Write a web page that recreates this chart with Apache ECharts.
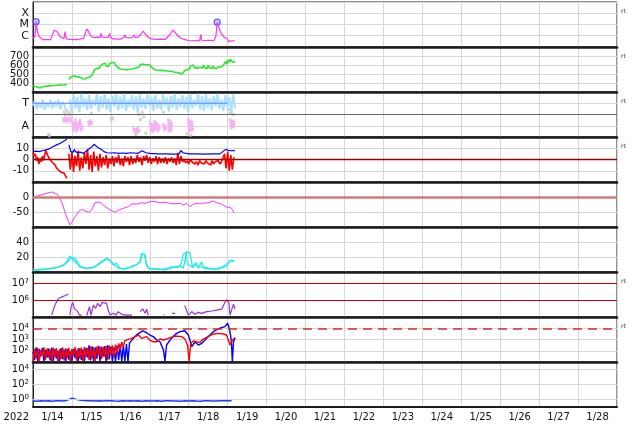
<!DOCTYPE html>
<html><head><meta charset="utf-8">
<script src="https://cdn.jsdelivr.net/npm/echarts@6/dist/echarts.min.js"></script>
<style>html,body{margin:0;padding:0;background:#fff}#c{width:634px;height:424px}</style>
</head><body><div id="c"></div>
<script>
// ---------------- tick / axis labels ----------------
const dayLabels = ['1/14','1/15','1/16','1/17','1/18','1/19','1/20','1/21','1/22','1/23','1/24','1/25','1/26','1/27','1/28'];
const yearLabel = '2022';
const flareClassLabels = {'-4':'X','-5':'M','-6':'C'};
const sectorLabels = {'270':'T','90':'A'};
const rtLabel = 'rt';

// ---------------- data (x = days since 1/14 00:00) ----------------
// Panel 1: X-ray flux (W/m2)
const xrayFlux = [[0,5.5e-7],[0.03,6e-7],[0.05,9e-7],[0.065,3e-6],[0.08,1.8e-5],[0.1,5e-6],[0.13,1.5e-6],[0.16,8e-7],[0.2,5.5e-7],[0.25,4.5e-7],[0.3,4.2e-7],[0.35,4.6e-7],[0.4,4.2e-7],[0.45,4.5e-7],[0.5,1.2e-6],[0.54,3e-6],[0.57,4e-6],[0.61,2.5e-6],[0.65,1.5e-6],[0.7,8e-7],[0.75,6e-7],[0.79,5.5e-7],[0.81,1.2e-6],[0.82,2.3e-6],[0.84,8e-7],[0.88,5e-7],[0.95,4.8e-7],[1.0,5e-7],[1.1,4.6e-7],[1.2,5e-7],[1.3,6e-7],[1.34,1.6e-6],[1.38,4e-6],[1.42,2.6e-6],[1.47,1.2e-6],[1.52,7.5e-7],[1.58,7e-7],[1.65,7.5e-7],[1.72,7e-7],[1.75,1.6e-6],[1.77,8e-7],[1.85,7e-7],[1.93,7e-7],[1.97,1.6e-6],[1.99,7e-7],[2.05,5.5e-7],[2.15,5e-7],[2.25,5e-7],[2.33,7e-7],[2.36,1.2e-6],[2.38,7e-7],[2.45,6.5e-7],[2.55,7e-7],[2.6,1.2e-6],[2.62,7e-7],[2.7,7.5e-7],[2.78,1.5e-6],[2.83,2.6e-6],[2.88,1.5e-6],[2.95,8e-7],[3.02,5.5e-7],[3.1,5e-7],[3.2,4.8e-7],[3.3,5e-7],[3.4,4.8e-7],[3.5,1.1e-6],[3.6,3.2e-6],[3.66,1.8e-6],[3.72,1e-6],[3.8,6e-7],[3.9,4.5e-7],[4.0,3.8e-7],[4.1,3.6e-7],[4.2,3.8e-7],[4.28,3.6e-7],[4.31,1.35e-6],[4.33,4e-7],[4.42,3.8e-7],[4.5,4e-7],[4.53,6e-7],[4.55,3.8e-7],[4.65,3.6e-7],[4.7,1e-6],[4.73,1.6e-5],[4.77,6e-6],[4.82,2e-6],[4.9,8e-7],[4.98,5.5e-7],[5.03,3e-7],[5.04,2.1e-7],[5.06,4e-7],[5.1,3.6e-7],[5.19,3.6e-7]];
const flareMarks = [[0.08,1.8e-5],[4.73,1.6e-5]];

// Panel 2: solar wind speed (km/s)
const windSpeed = [[0,372],[0.03,365],[0.06,360],[0.09,368],[0.12,352],[0.15,358],[0.18,345],[0.21,350],[0.24,360],[0.27,355],[0.3,362],[0.33,358],[0.36,365],[0.39,360],[0.42,368],[0.45,362],[0.48,370],[0.51,366],[0.54,372],[0.57,368],[0.6,375],[0.63,370],[0.66,376],[0.69,372],[0.72,378],[0.75,374],[0.78,380],[0.81,376],[0.84,384],[0.87,380],[0.9,'-'],
[0.92,440],[0.95,452],[0.98,468],[1.01,458],[1.04,480],[1.07,470],[1.1,475],[1.13,462],[1.16,468],[1.19,458],[1.22,462],[1.25,450],[1.28,445],[1.31,452],[1.34,448],[1.37,458],[1.4,462],[1.43,455],[1.46,465],[1.49,458],[1.52,490],[1.55,520],[1.58,548],[1.61,565],[1.64,560],[1.67,575],[1.7,565],[1.73,590],[1.76,570],[1.79,610],[1.82,595],[1.85,620],[1.88,590],[1.91,600],[1.94,585],[1.97,615],[2.0,605],[2.03,628],[2.06,610],[2.09,625],[2.12,598],[2.15,590],[2.18,575],[2.21,565],[2.24,555],[2.27,548],[2.3,552],[2.33,545],[2.36,550],[2.39,542],[2.42,548],[2.45,545],[2.48,552],[2.51,546],[2.54,555],[2.57,548],[2.6,560],[2.63,555],[2.66,570],[2.69,585],[2.72,575],[2.75,600],[2.78,590],[2.81,612],[2.84,595],[2.87,605],[2.9,588],[2.93,600],[2.96,592],[2.99,605],[3.02,585],[3.05,570],[3.08,562],[3.11,550],[3.14,548],[3.17,545],[3.2,548],[3.23,542],[3.26,546],[3.29,540],[3.32,544],[3.35,538],[3.38,542],[3.41,536],[3.44,540],[3.47,534],[3.5,536],[3.53,530],[3.56,534],[3.59,526],[3.62,530],[3.65,520],[3.68,524],[3.71,515],[3.74,520],[3.77,510],[3.8,505],[3.83,500],[3.86,510],[3.9,540],[3.93,560],[3.96,548],[3.99,565],[4.02,555],[4.05,590],[4.08,580],[4.11,600],[4.14,585],[4.17,565],[4.2,560],[4.23,568],[4.26,560],[4.29,575],[4.32,590],[4.35,565],[4.38,600],[4.41,570],[4.44,585],[4.47,560],[4.5,595],[4.53,568],[4.56,580],[4.59,560],[4.62,590],[4.65,565],[4.68,575],[4.71,560],[4.74,570],[4.77,580],[4.8,565],[4.83,575],[4.86,570],[4.89,600],[4.92,585],[4.95,640],[4.98,610],[5.01,655],[5.04,630],[5.07,665],[5.1,640],[5.13,650],[5.16,630],[5.19,645]];

// Panel 3: IMF sector angle (deg), sampled every 0.05 day
const SECTOR_STEP = 0.05;
const towardStart1 = 0, towardStart2 = 0.94;
const towardSeg1 = [250,290,225,280,235,300,220,275,240,295,230,285,245,300,225,280,260,215];
const towardSeg2 = [300,210,340,230,320,200,345,240,310,215,335,225,300,250,340,205,325,235,345,220,310,200,330,245,340,215,320,230,345,210,300,240,335,220,325,195,340,235,310,225,345,250,320,210,335,230,300,220,340,245,315,205,330,235,345,215,310,240,335,225,320,200,340,230,300,250,345,220,325,210,340,235,310,215,330,245,345,225,300,210,335,240,320,200,340,230];
const awayPoints = [[0.77,150],[0.79,115],[0.81,165],[0.83,120],[0.85,155],[0.87,112],[0.89,160],[0.91,125],[0.93,150],[0.95,115],[0.97,160],[0.99,120],[1.01,140],[1.03,40],[1.05,120],[1.07,60],[1.09,150],[1.11,35],[1.13,110],[1.15,50],[1.17,130],[1.19,70],[1.21,145],[1.23,45],[1.25,100],[1.27,60],[1.33,'-'],
[1.41,130],[1.44,90],[1.47,140],[1.5,95],[1.53,125],[1.7,'-'],[1.98,160],[2.01,130],[2.04,165],[2.06,135],[2.3,'-'],
[2.57,80],[2.6,35],[2.63,70],[2.66,40],[2.69,85],[2.72,35],[2.75,60],[2.9,'-'],
[3.0,130],[3.03,40],[3.06,110],[3.09,35],[3.12,135],[3.15,50],[3.18,120],[3.21,40],[3.24,100],[3.26,60],[3.3,'-'],
[3.34,110],[3.37,50],[3.4,100],[3.43,55],[3.45,'-'],[3.47,150],[3.5,35],[3.53,140],[3.55,40],[3.57,120],[3.7,'-'],
[3.98,150],[4.01,35],[4.04,140],[4.07,45],[4.09,130],[4.11,50],[4.5,'-'],[5.06,150],[5.09,60],[5.12,140],[5.15,70],[5.18,130]];
const unknownPoints = [[0.8,200],[0.84,180],[0.88,210],[0.92,190],[0.96,175],[1.0,205],[0.4,20],[0.42,10],[2.72,180],[2.76,140],[2.8,200],[2.84,160],[2.64,20],[2.68,40],[2.9,30],[3.95,25],[4.05,15],[5.02,220],[5.06,190],[5.1,200],[5.14,180],[1.5,190],[3.35,200]];
const sectorRefSpan = [[0,270],[5.0,270]];

// Panel 4: IMF Bt and Bz (nT)
const imfBt = [[0,7],[0.08,7.5],[0.16,7],[0.24,7.8],[0.31,8.4],[0.38,9],[0.44,10],[0.52,11.5],[0.61,13],[0.7,14.5],[0.78,16],[0.87,18],[0.9,'-'],
[0.92,13],[0.95,10],[0.97,7],[1.0,8.5],[1.03,6.5],[1.06,9],[1.09,7],[1.12,8],[1.15,6],[1.18,7.5],[1.21,6.5],[1.26,5.5],[1.3,5.5],[1.35,6.5],[1.4,8.4],[1.46,10],[1.52,11.4],[1.57,13.5],[1.6,12],[1.64,11.4],[1.7,10],[1.76,9],[1.82,7],[1.9,6],[2.0,5.8],[2.1,6],[2.2,5.5],[2.3,5.8],[2.4,5.5],[2.5,6],[2.6,5.8],[2.7,5.5],[2.8,7.8],[2.85,6.5],[2.9,6],[3.0,5.5],[3.2,5],[3.4,5],[3.6,4.8],[3.75,5],[3.8,8],[3.85,6],[3.9,5.2],[4.0,5],[4.2,5],[4.4,4.8],[4.6,5],[4.8,5],[4.95,9],[5.0,8],[5.05,7.8],[5.12,8],[5.19,7.8]];
const imfBzSeg1 = [[0,6],[0.03,3],[0.06,5],[0.09,-1],[0.12,2],[0.15,-4],[0.18,1],[0.21,-2],[0.24,3],[0.27,-1],[0.3,4],[0.33,8],[0.36,5],[0.4,2],[0.44,0],[0.48,-2],[0.52,-3.4],[0.57,-5],[0.61,-7.8],[0.66,-9],[0.7,-10.8],[0.75,-11.5],[0.8,-12.3],[0.84,-14],[0.87,-16.7]];
const BZ_STEP = 0.04, bzStart2 = 0.92;
const imfBzSeg2 = [5,-9,7,-11,3,-6,8,-10,2,-8,6,-4,9,-9,4,-11,7,-6,3,-10,5,-7,2,-5,4,-8,1,-4,3,-6,2,-3,4,-5,1,-6,3,-2,2,-5,3,-4,1,-3,4,-2,2,-5,3,-1,4,-3,2,-4,1,-2,3,-4,2,-3,1,-3,2,-4,1,-2,2,-3,1,-5,6,-4,3,-2,0,-3,-1,-4,0,-2,-1,-4,-2,-5,-1,-3,-2,-4,-1,-3,-2,-5,-1,-4,-2,-3,-1,-4,-2,-3,5,-8,7,-10,4,-9,2];

// Panel 5: Dst (nT)
const dstIndex = [[0.01,1],[0.14,4],[0.26,9],[0.39,14],[0.48,16.7],[0.57,12],[0.65,5],[0.74,-17],[0.82,-50],[0.91,-82],[0.95,-93],[0.99,-86],[1.08,-66],[1.16,-51],[1.25,-41],[1.34,-46],[1.42,-51],[1.51,-43],[1.59,-19],[1.68,-17],[1.76,-21],[1.85,-32],[1.98,-43],[2.11,-51],[2.19,-44],[2.32,-38],[2.45,-32],[2.54,-23],[2.66,-24],[2.79,-19],[2.88,-21],[3.01,-16],[3.13,-15],[3.26,-19],[3.39,-18],[3.52,-21],[3.65,-23],[3.78,-21],[3.86,-27],[3.95,-21],[4.03,-32],[4.12,-24],[4.25,-21],[4.37,-21],[4.5,-19],[4.63,-13],[4.72,-19],[4.85,-24],[4.98,-34],[5.06,-34],[5.13,-43],[5.16,-54]];

// Panel 6: density (/cc), two sources
const densityA = [[0.01,2.7],[0.18,3.6],[0.35,4.4],[0.44,4.9],[0.61,6.2],[0.78,9.3],[0.87,13.8],[0.95,21.3],[0.99,19.6],[1.04,16],[1.12,11.6],[1.21,6.2],[1.38,4.9],[1.55,6.2],[1.64,9.3],[1.76,13.8],[1.89,18.2],[1.98,16],[2.06,9.3],[2.15,11.6],[2.23,4.9],[2.36,3.6],[2.49,6.2],[2.66,9.3],[2.75,13.8],[2.79,24.9],[2.88,22.7],[2.92,8],[3.01,3.6],[3.18,4.4],[3.35,2.7],[3.52,4.4],[3.6,6.2],[3.78,8],[3.86,4.9],[3.95,27],[4.03,25.8],[4.1,6.2],[4.16,11.6],[4.25,4.9],[4.33,13.8],[4.37,7.1],[4.55,4.4],[4.72,3.6],[4.89,6.2],[4.98,8],[5.06,16],[5.15,13.8]];
const densityB = [[0.0,2.0],[0.2,3.0],[0.4,3.8],[0.6,5.5],[0.75,8],[0.85,11],[0.93,16],[0.98,19],[1.03,21],[1.08,18],[1.14,14],[1.2,9],[1.3,5.5],[1.45,5],[1.6,7],[1.72,11],[1.82,15],[1.9,17.5],[1.98,14],[2.05,12],[2.12,8],[2.2,5],[2.35,4.5],[2.5,7],[2.65,10],[2.75,13],[2.8,22],[2.86,24],[2.9,12],[2.98,5],[3.1,4],[3.3,3.5],[3.45,5],[3.6,7],[3.72,6],[3.8,10],[3.86,24],[3.92,26],[3.97,10],[4.03,9],[4.1,6],[4.2,12],[4.25,8],[4.4,5],[4.55,4],[4.7,4.5],[4.85,6.5],[4.95,10],[5.05,14],[5.12,16],[5.18,14]];

// Panel 7: electron fluence-like quantity (log)
const purpleFlux = [[0.48,1.3e5],[0.565,5.2e5],[0.65,1.3e6],[0.74,1.6e6],[0.82,1.9e6],[0.91,2.4e6],[0.93,'-'],
[0.95,1.3e5],[0.98,4.2e5],[1.02,7.6e5],[1.06,3.3e5],[1.1,4.2e5],[1.15,2.1e5],[1.19,1.3e5],[1.25,1.3e5],[1.32,'-'],[1.38,1.2e5],[1.45,4.2e5],[1.49,1.3e5],[1.55,5.2e5],[1.61,3.3e5],[1.66,6.6e5],[1.72,4.2e5],[1.78,7.6e5],[1.83,5.8e5],[1.89,6.6e5],[1.93,2.6e5],[1.98,1.3e5],[2.06,1.66e5],[2.13,1.3e5],[2.19,2.1e5],[2.28,1.45e5],[2.41,1.3e5],[2.54,1.3e5],[2.65,'-'],[2.75,2.1e5],[2.82,3e5],[2.88,1.66e5],[2.92,3e5],[2.96,1.3e5],[3.1,'-'],
[3.35,1.45e5],[3.37,1.3e5],[3.45,'-'],[3.57,1.66e5],[3.65,1.66e5],[3.75,'-'],[3.9,4.8e5],[3.95,4.2e5],[3.99,1.3e5],[4.08,2.1e5],[4.16,1.45e5],[4.25,1.9e5],[4.33,1.66e5],[4.46,2.1e5],[4.59,2.3e5],[4.72,2.6e5],[4.85,3e5],[4.93,7.6e5],[4.97,1.05e6],[5.03,7.6e5],[5.06,1.3e5],[5.1,1.3e5],[5.15,5.8e5],[5.19,3e5]];

// Panel 8: particle flux (log), noisy start sampled every 0.04 day
const P8_STEP = 0.04;
const blueFluxNoise = [80,15,200,12,150,30,180,11,120,25,160,14,190,11,140,20,100,12,170,18,130,11,150,16,90,12,140,22,110,11,160,15,130,12,180,25,300,14,250,11,200,20,280,12,220,30,260,11,320,18,240,12,200,11,280,15,350,11,300,12,400,11,500,600];
const blueFluxSmooth = [[2.53,630],[2.62,1800],[2.71,3500],[2.82,5800],[2.92,4000],[3.0,2500],[3.09,1800],[3.18,900],[3.26,630],[3.35,120],[3.39,12],[3.43,320],[3.52,900],[3.6,1800],[3.69,3500],[3.78,5000],[3.9,6000],[3.99,2500],[4.03,900],[4.08,230],[4.16,600],[4.25,320],[4.33,450],[4.42,900],[4.5,1800],[4.63,5000],[4.8,10000],[4.93,14000],[5.0,28000],[5.04,10000],[5.08,1800],[5.1,320],[5.12,11],[5.15,630],[5.19,1450]];
const redFluxNoise = [12,150,20,180,11,120,40,200,15,160,25,140,11,190,30,170,12,130,18,200,14,160,22,180,11,150,35,210,13,170,20,190,12,220,28,180,15,240,20,200,12,230,40,250,18,220,30,260,15,280,45,300,25,350,60,450,120,600,250,800,700];
const redFluxSmooth = [[2.41,900],[2.53,1260],[2.62,1800],[2.71,2500],[2.79,1260],[2.92,1800],[3.0,900],[3.09,630],[3.18,630],[3.26,1100],[3.35,900],[3.43,1100],[3.52,1450],[3.6,1800],[3.69,2000],[3.82,1800],[3.9,1100],[3.97,320],[4.01,11],[4.05,450],[4.12,750],[4.2,630],[4.29,560],[4.37,1100],[4.5,1800],[4.63,3100],[4.76,3500],[4.89,3100],[4.97,2500],[5.02,900],[5.06,320],[5.1,630],[5.15,1100],[5.19,1450]];

// Panel 9: flux near 1 (log), every 0.1 day
const P9_STEP = 0.1;
const lowFlux = [0.65,0.6,0.7,0.62,0.68,0.6,0.66,0.7,0.62,0.9,1.45,1.1,0.85,0.75,0.7,0.75,0.65,0.7,0.62,0.68,0.7,0.64,0.6,0.68,0.65,0.7,0.62,0.66,0.6,0.7,0.65,0.62,0.68,0.6,0.66,0.7,0.62,0.65,0.6,0.68,0.64,0.7,0.62,0.6,0.66,0.7,0.65,0.62,0.68,0.7,0.72,0.7];

// ---------------- helpers ----------------
function sampled(start, step, vals){ return vals.map((v,i)=>[Math.round((start+i*step)*1000)/1000, v]); }
const FONT = 'DejaVu Sans';
const PANELS = 9, TOP = 2, PH = 45;
const GRIDC = '#d6d6d6';

const grid = [], xAxis = [], yAxis = [];
for (let i=0;i<PANELS;i++){
  grid.push({left:33,right:17,top:TOP+PH*i,height:PH,show:true,borderColor:'#222',borderWidth:1});
  xAxis.push({type:'value',gridIndex:i,position:'bottom',min:0,max:15,interval:1,
    axisLabel:{show:false},axisTick:{show:false},
    axisLine:{show:true,onZero:false,lineStyle:{color:'#1c1c1c',width:i<PANELS-1?2.6:2}},
    splitLine:{show:true,lineStyle:{color:GRIDC,width:1}}});
}
xAxis.push({type:'category',gridIndex:PANELS-1,position:'bottom',data:dayLabels,boundaryGap:true,
  axisLine:{show:false},axisTick:{show:false},splitLine:{show:false},
  axisLabel:{interval:0,fontFamily:FONT,fontSize:10,color:'#111',margin:5},
  name:yearLabel,nameLocation:'start',nameGap:4,
  nameTextStyle:{fontFamily:FONT,fontSize:10,color:'#111',verticalAlign:'top',padding:[5,0,0,0]}});

const RICH = {b:{fontFamily:FONT,fontSize:10,color:'#111'},s:{fontFamily:FONT,fontSize:7,color:'#111',verticalAlign:'top',padding:[0,0,5,0]}};
function powFmt(show){ return v=>{ const e=Math.round(Math.log10(v)); return show.includes(e)?'{b|10}{s|'+e+'}':''; }; }
function yax(i, o, fmt, fs, split){
  return Object.assign({gridIndex:i,position:'left',
    axisLine:{show:true,onZero:false,lineStyle:{color:'#222',width:1}},axisTick:{show:false},
    splitLine:{show:split!==false,lineStyle:{color:GRIDC,width:1}},
    axisLabel:{fontFamily:FONT,fontSize:fs||10,color:'#111',margin:4,formatter:fmt,rich:RICH}}, o);
}
yAxis.push(yax(0,{type:'log',logBase:10,min:1e-7,max:1e-3},v=>flareClassLabels[String(Math.round(Math.log10(v)))]||'',11));
yAxis.push(yax(1,{type:'value',min:300,max:800,interval:100},v=>(v>=400&&v<=700)?String(v):''));
yAxis.push(yax(2,{type:'value',min:0,max:360,interval:90},v=>sectorLabels[String(v)]||'',11));
yAxis.push(yax(3,{type:'value',min:-20,max:20,interval:10},v=>Math.abs(v)<=10?String(v):''));
yAxis.push(yax(4,{type:'value',min:-100,max:50,interval:50},v=>(v===0||v===-50)?String(v):''));
yAxis.push(yax(5,{type:'value',min:0,max:60,interval:20},v=>(v===20||v===40)?String(v):''));
yAxis.push(yax(6,{type:'log',logBase:10,min:1e5,max:Math.pow(10,7.7)},powFmt([6,7]),10,false));
yAxis.push(yax(7,{type:'log',logBase:10,min:10,max:1e5},powFmt([2,3,4])));
yAxis.push(yax(8,{type:'log',logBase:10,min:0.1,max:1e5},powFmt([0,2,4]),10,false));

function hline(vals, color, width, type){
  return {silent:true,symbol:['none','none'],label:{show:false},animation:false,
    lineStyle:{color:color,width:width,type:type||'solid'},data:vals.map(v=>({yAxis:v}))};
}
function line(i, data, color, width, extra){
  return Object.assign({type:'line',xAxisIndex:i,yAxisIndex:i,data:data,showSymbol:false,symbol:'none',
    lineStyle:{color:color,width:width||1},itemStyle:{color:color},animation:false,connectNulls:false}, extra||{});
}

const series = [
  line(0, xrayFlux, '#ff30ff', 1.2),
  {type:'scatter',xAxisIndex:0,yAxisIndex:0,data:flareMarks,symbol:'circle',symbolSize:6,animation:false,
    itemStyle:{color:'#c4c8ff',borderColor:'#3a3aff',borderWidth:1.3}},
  line(1, windSpeed, '#2ee62e', 1.6),
  {type:'scatter',xAxisIndex:2,yAxisIndex:2,data:unknownPoints,symbol:'rect',symbolSize:3,animation:false,itemStyle:{color:'#c8c8c8'}},
  line(2, sampled(towardStart1,SECTOR_STEP,towardSeg1).concat([[0.9,'-']],sampled(towardStart2,SECTOR_STEP,towardSeg2)), '#a8e2ff', 2.2,
    {markLine:hline([180],'#666',1)}),
  line(2, awayPoints, '#f6b2f2', 2),
  line(2, sectorRefSpan, '#7878ff', 1),
  line(3, imfBzSeg1.concat([[0.9,'-']],sampled(bzStart2,BZ_STEP,imfBzSeg2)), '#ff0000', 1.6, {markLine:hline([0],'#a00000',1.4)}),
  line(3, imfBt, '#0000ff', 1.2),
  line(4, dstIndex, '#ff30ff', 1, {markLine:hline([0],'#d27a7a',2.5)}),
  line(5, densityB, '#30f0f0', 1.3),
  line(5, densityA, '#20e8e8', 1.3),
  line(6, purpleFlux, '#a02ed0', 1.2, {markLine:hline([1e6,1e7],'#cc0000',1.2)}),
  line(7, sampled(0,P8_STEP,blueFluxNoise).concat(blueFluxSmooth), '#0000ff', 1.4),
  line(7, sampled(0,P8_STEP,redFluxNoise).concat(redFluxSmooth), '#ff0000', 1.4, {markLine:hline([1e4],'#dd2a2a',1.5,[9,6])}),
  line(8, sampled(0,P9_STEP,lowFlux), '#1a3cff', 1.5, {markLine:hline([1,100,1e4],GRIDC,1)})
];

const rtPanels = [0,1,2,3,6,7];
const graphic = rtPanels.map(i=>({type:'text',x:621,y:TOP+PH*i+6.5,silent:true,
  style:{text:rtLabel,fontFamily:FONT,fontSize:6,fill:'#444'}}));

const chart = echarts.init(document.getElementById('c'), null, {renderer:'canvas',width:634,height:424});
chart.setOption({animation:false,backgroundColor:'#fff',grid,xAxis,yAxis,series,graphic});
</script>
</body></html>
